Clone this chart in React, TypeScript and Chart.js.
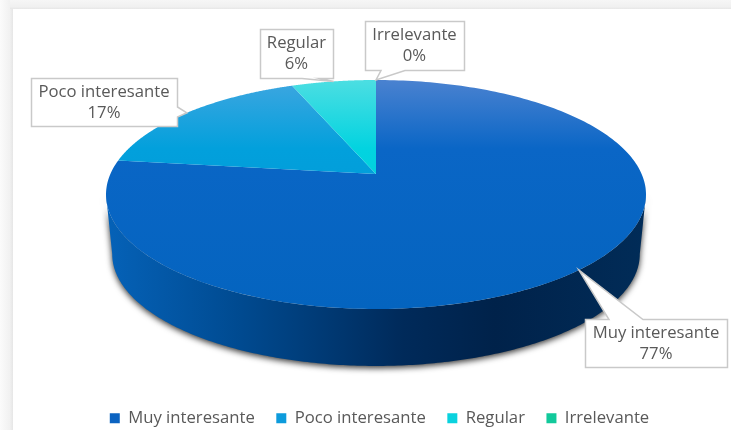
import React, { useEffect, useRef } from "react";
import { Chart, registerables } from "chart.js";

Chart.register(...registerables);

const categories = ["Muy interesante", "Poco interesante", "Regular", "Irrelevante"];
const percentages = [77, 17, 6, 0];
const legendColors = ["#0b63c1", "#0d9bdc", "#0ad2de", "#12c99b"];
const topGradients = [
  ["#4a82d0", "#0a66c6", "#0464bf"],
  ["#3ea6e0", "#02a0dc", "#0296d2"],
  ["#4cdee2", "#02d3e0", "#00c8d8"],
  ["#30d8a8", "#10c898", "#10c090"],
];
const boxes = [
  { x: 585, y: 319, w: 142, h: 48, a: 609, b: 643, side: "top" },
  { x: 31, y: 78, w: 146, h: 48, a: 107, b: 117, side: "right" },
  { x: 260, y: 29, w: 73, h: 49, a: 302, b: 320, side: "bottom" },
  { x: 365, y: 21, w: 99, h: 49, a: 381, b: 405, side: "bottom" },
];

const CX = 376, APEX = 174, TOP = 80, BOTTOM = 309, WIDTH = 270;
const DEPTH = 59.6, LOWER_SCALE = 0.977;
const k = (2 * APEX - TOP - BOTTOM) / (BOTTOM - TOP);
const b = BOTTOM * (1 + k) - APEX;
const a = WIDTH * Math.sqrt(1 - k * k);
const FONT_SIZE = 16.7;
const FONT = `${FONT_SIZE}px "Open Sans"`;

function project(angle: number, r = 1): [number, number] {
  const u = r * Math.cos(angle);
  const v = r * Math.sin(angle);
  const d = 1 + k * v;
  return [CX + (a * u) / d, (APEX + b * v) / d];
}
function lower(angle: number): [number, number] {
  const [x, y] = project(angle);
  return [CX + (x - CX) * LOWER_SCALE, y + DEPTH - (y - 194.5) * (1 - LOWER_SCALE)];
}

const pie3d = {
  id: "pie3d",
  afterLayout(chart: Chart) {
    const legend = chart.legend as any;
    legend.top += 6.5;
    legend.bottom += 6.5;
    legend.left += 14;
    legend.right += 14;
  },
  beforeDraw(chart: Chart) {
    const { ctx, width, height } = chart;
    ctx.save();
    ctx.fillStyle = "#ffffff";
    ctx.fillRect(0, 0, width, height);
    const g = ctx.createLinearGradient(0, 0, 13, 0);
    g.addColorStop(0, "#fbfbfb");
    g.addColorStop(0.75, "#f1f1f1");
    g.addColorStop(1, "#e6e6e6");
    ctx.fillStyle = g;
    ctx.fillRect(0, 0, 13, height);
    const t = ctx.createLinearGradient(0, 0, 0, 9);
    t.addColorStop(0, "#f6f6f6");
    t.addColorStop(0.75, "#f0f0f0");
    t.addColorStop(1, "#e6e6e6");
    ctx.fillStyle = t;
    ctx.fillRect(10, 0, width - 10, 9);
    ctx.restore();
  },
  beforeDatasetDraw(chart: Chart) {
    const { ctx } = chart;
    const arcs = chart.getDatasetMeta(0).data as any[];
    ctx.save();
    // side wall: only the front of the rim, from the rightmost to the leftmost point
    const front0 = Math.asin(-k);
    const front1 = Math.PI - front0;
    const wall = ctx.createLinearGradient(CX - WIDTH, 0, CX + WIDTH, 0);
    wall.addColorStop(0, "#0562b8");
    wall.addColorStop(0.25, "#004a90");
    wall.addColorStop(0.55, "#002a5a");
    wall.addColorStop(0.72, "#00224a");
    wall.addColorStop(1, "#012c58");
    arcs.forEach((arc) => {
      const { startAngle, endAngle } = arc.getProps(["startAngle", "endAngle"], true);
      const s = Math.max(startAngle, front0);
      const e = Math.min(endAngle, front1);
      if (e - s < 1e-4) return;
      const n = 240;
      ctx.beginPath();
      for (let i = 0; i <= n; i++) {
        const [x, y] = project(s + ((e - s) * i) / n);
        i ? ctx.lineTo(x, y) : ctx.moveTo(x, y);
      }
      for (let i = n; i >= 0; i--) {
        const [x, y] = lower(s + ((e - s) * i) / n);
        ctx.lineTo(x, y);
      }
      ctx.closePath();
      ctx.shadowColor = "rgba(0,0,0,0.8)";
      ctx.shadowBlur = 6;
      ctx.shadowOffsetX = 0;
      ctx.shadowOffsetY = 2;
      ctx.fillStyle = wall;
      ctx.fill();
    });
    ctx.shadowColor = "transparent";
    // top surface
    arcs.forEach((arc, i) => {
      const { startAngle, endAngle } = arc.getProps(["startAngle", "endAngle"], true);
      if (endAngle - startAngle < 1e-4) return;
      const stops = topGradients[i];
      const g = ctx.createLinearGradient(0, TOP, 0, BOTTOM);
      g.addColorStop(0, stops[0]);
      g.addColorStop(0.3, stops[1]);
      g.addColorStop(1, stops[2]);
      const n = 240;
      ctx.beginPath();
      ctx.moveTo(CX, APEX);
      for (let j = 0; j <= n; j++) {
        const [x, y] = project(startAngle + ((endAngle - startAngle) * j) / n);
        ctx.lineTo(x, y);
      }
      ctx.closePath();
      ctx.fillStyle = g;
      ctx.fill();
    });
    ctx.restore();
    return false;
  },
  afterDatasetsDraw(chart: Chart) {
    const { ctx } = chart;
    const arcs = chart.getDatasetMeta(0).data as any[];
    ctx.save();
    arcs.forEach((arc, i) => {
      const { startAngle, endAngle } = arc.getProps(["startAngle", "endAngle"], true);
      const [tx, ty] = project((startAngle + endAngle) / 2);
      const box = boxes[i];
      const x0 = box.x + 0.5, y0 = box.y + 0.5, x1 = box.x + box.w + 0.5, y1 = box.y + box.h + 0.5;
      ctx.beginPath();
      ctx.moveTo(x0, y0);
      if (box.side === "top") {
        ctx.lineTo(box.a, y0);
        ctx.lineTo(tx, ty);
        ctx.lineTo(box.b, y0);
      }
      ctx.lineTo(x1, y0);
      if (box.side === "right") {
        ctx.lineTo(x1, box.a);
        ctx.lineTo(tx, ty);
        ctx.lineTo(x1, box.b);
      }
      ctx.lineTo(x1, y1);
      if (box.side === "bottom") {
        ctx.lineTo(box.b, y1);
        ctx.lineTo(tx, ty);
        ctx.lineTo(box.a, y1);
      }
      ctx.lineTo(x0, y1);
      ctx.closePath();
      ctx.fillStyle = "#ffffff";
      ctx.fill();
      ctx.strokeStyle = "#c9c9c9";
      ctx.lineWidth = 1.5;
      ctx.stroke();
      ctx.fillStyle = "#595959";
      ctx.font = FONT;
      ctx.textAlign = "center";
      ctx.textBaseline = "middle";
      const cx = box.x + box.w / 2;
      ctx.fillText(categories[i], cx, box.y + 14.5);
      ctx.fillText(percentages[i] + "%", cx, box.y + 35.5);
    });
    ctx.restore();
  },
};

export default function App() {
  const ref = useRef<HTMLCanvasElement>(null);
  useEffect(() => {
    const chart = new Chart(ref.current!, {
      type: "pie",
      data: {
        labels: categories,
        datasets: [{ data: percentages, backgroundColor: legendColors, borderWidth: 0 }],
      },
      options: {
        responsive: false,
        animation: false,
        layout: { padding: 0 },
        plugins: {
          tooltip: { enabled: false },
          legend: {
            position: "bottom",
            labels: {
              boxWidth: 10,
              boxHeight: 10,
              padding: 21.5,
              color: "#595959",
              font: { family: "Open Sans", size: FONT_SIZE },
            },
          },
        },
      },
      plugins: [pie3d],
    });
    return () => chart.destroy();
  }, []);
  return (
    <canvas
      ref={ref}
      width={731}
      height={430}
      style={{ position: "fixed", left: 0, top: 0, display: "block", width: 731, height: 430 }}
    />
  );
}
